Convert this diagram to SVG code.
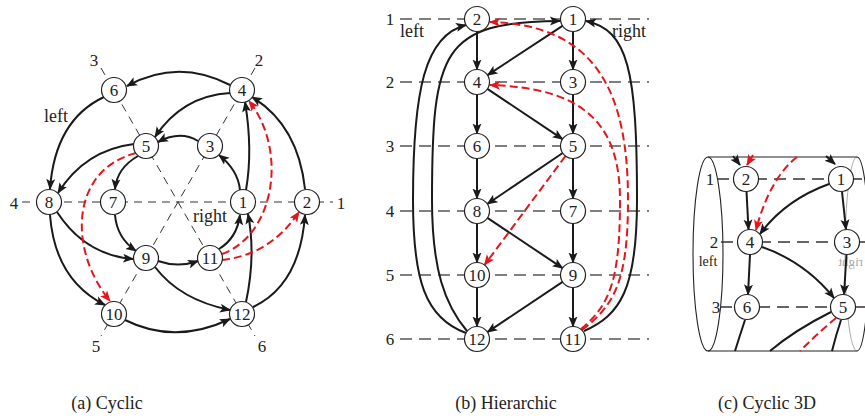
<svg xmlns="http://www.w3.org/2000/svg" width="865" height="419" viewBox="0 0 865 419">
<defs>
<marker id="ah" markerUnits="userSpaceOnUse" markerWidth="12" markerHeight="10" refX="10" refY="5" orient="auto" viewBox="0 0 12 10"><path d="M0,0.5 L11,5 L0,9.5 L2.5,5 z" fill="#1a1a1a"/></marker>
<marker id="ahr" markerUnits="userSpaceOnUse" markerWidth="12" markerHeight="10" refX="10" refY="5" orient="auto" viewBox="0 0 12 10"><path d="M0,0.5 L11,5 L0,9.5 L2.5,5 z" fill="#e3161d"/></marker>
</defs>
<style>
text{font-family:"Liberation Serif","DejaVu Serif",serif;fill:#222}
.nl{font-size:17px;text-anchor:middle}
.lab{font-size:17px;text-anchor:middle}
.cap{font-size:18px;text-anchor:middle}
.nd circle{fill:#fff;stroke:#222;stroke-width:1.2}
.e{fill:none;stroke:#1a1a1a;stroke-width:2;marker-end:url(#ah)}
.en{fill:none;stroke:#1a1a1a;stroke-width:2}
.r{fill:none;stroke:#e3161d;stroke-width:2;stroke-dasharray:8 4;marker-end:url(#ahr)}
.rn{fill:none;stroke:#e3161d;stroke-width:2;stroke-dasharray:8 4}
.ga{fill:none;stroke:#333;stroke-width:1;stroke-dasharray:8 6}
.gb{fill:none;stroke:#555;stroke-width:1.3;stroke-dasharray:12 7}
.cyl{fill:none;stroke:#222;stroke-width:1.1}
</style>

<!-- Panel (a) guides -->
<g id="a-guides">
<path class="ga" d="M22,202 H333"/>
<path class="ga" d="M255,68 L101,336"/>
<path class="ga" d="M101,68 L255,336"/>
<text class="lab" x="341" y="209">1</text>
<text class="lab" x="259" y="66">2</text>
<text class="lab" x="94" y="66">3</text>
<text class="lab" x="14" y="209">4</text>
<text class="lab" x="96" y="352">5</text>
<text class="lab" x="262" y="352">6</text>
<text x="44" y="122" style="font-size:18px">left</text>
<text x="193" y="222" style="font-size:18px">right</text>
</g>

<!-- Panel (b) guides -->
<g id="b-guides">
<path class="gb" d="M400,19 H649 M400,82 H649 M400,146 H649 M400,211 H649 M400,275 H649 M400,339 H649"/>
<text class="lab" x="390" y="25">1</text>
<text class="lab" x="390" y="88">2</text>
<text class="lab" x="390" y="152">3</text>
<text class="lab" x="390" y="217">4</text>
<text class="lab" x="390" y="281">5</text>
<text class="lab" x="390" y="345">6</text>
<text x="400" y="37" style="font-size:18px">left</text>
<text x="612" y="37" style="font-size:18px">right</text>
</g>

<!-- Panel (c) cylinder and guides -->
<g id="c-cylinder">
<path d="M857,157 A12,97 0 0 0 857,351" fill="none" stroke="#aaa" stroke-width="1"/>
<text transform="translate(1701,0) scale(-1,1)" x="838" y="266" style="font-size:13px;fill:#aaa">right</text>
<ellipse class="cyl" cx="708" cy="254" rx="15" ry="97"/>
<path class="cyl" d="M708,157 H857 A12,97 0 0 1 857,351 H708"/>
<path class="gb" d="M717,179 H865 M721,242 H865 M720,307 H865" style="stroke:#333"/>
<text class="lab" x="710" y="185">1</text>
<text class="lab" x="714" y="248">2</text>
<text class="lab" x="716" y="313">3</text>
<text x="708" y="266" style="font-size:14px;text-anchor:middle">left</text>
</g>

<g id="connectors">
<!-- (a) -->
<path class="e" d="M230,85 Q178,58 127,86"/>
<path class="e" d="M230,93 Q182,96 155,137"/>
<path class="e" d="M198,141 Q180,130 158,142"/>
<path class="e" d="M240,190 Q238,170 219,155"/>
<path class="e" d="M246,190 Q253,150 245,102"/>
<path class="e" d="M305,189 Q298,125 252,97"/>
<path class="e" d="M104,97 Q55,120 50,189"/>
<path class="e" d="M134,144 Q85,150 58,193"/>
<path class="e" d="M138,156 Q117,168 115,189"/>
<path class="e" d="M115,215 Q117,238 136,251"/>
<path class="e" d="M57,212 Q85,255 133,259"/>
<path class="e" d="M50,215 Q55,280 105,305"/>
<path class="e" d="M158,261 Q178,268 198,261"/>
<path class="e" d="M155,267 Q180,300 230,310"/>
<path class="e" d="M125,320 Q175,345 230,319"/>
<path class="e" d="M219,249 Q237,238 240,215"/>
<path class="e" d="M246,302 Q256,255 248,214"/>
<path class="e" d="M253,307 Q300,285 305,215"/>
<path class="r" d="M222,254 C275,235 288,150 249,101"/>
<path class="r" d="M222,260 Q270,255 299,212"/>
<path class="r" d="M136,153 C70,170 68,250 110,301"/>
<!-- (b) -->
<path class="e" d="M477,31.5 V69.5"/>
<path class="e" d="M477,94.5 V133.5"/>
<path class="e" d="M477,158.5 V198.5"/>
<path class="e" d="M477,223.5 V262.5"/>
<path class="e" d="M477,287.5 V326.5"/>
<path class="e" d="M573,31.5 V69.5"/>
<path class="e" d="M573,94.5 V133.5"/>
<path class="e" d="M573,158.5 V198.5"/>
<path class="e" d="M573,223.5 V262.5"/>
<path class="e" d="M573,287.5 V326.5"/>
<path class="e" d="M562.5,25.9 L487.5,75.1"/>
<path class="e" d="M487.4,88.9 L562.6,139.1"/>
<path class="e" d="M562.7,153 L487.3,204"/>
<path class="e" d="M487.4,217.9 L562.6,268.1"/>
<path class="e" d="M562.6,281.9 L487.4,332.1"/>
<path class="r" d="M565.5,156 L484.5,265"/>
<path class="e" d="M466,333 C425,318 413,280 413,200 C413,90 425,35 466,25"/>
<path class="e" d="M467,331 C445,305 432,270 432,200 C432,50 442,22 560,21"/>
<path class="e" d="M584,331 C620,315 637,290 637,200 C637,70 628,30 586,21"/>
<path class="r" d="M582,330 C615,305 628,280 628,200 C628,90 595,25 490,22"/>
<path class="r" d="M581,329 C610,305 620,280 620,200 C620,120 580,88 490,85"/>
<!-- (c) -->
<path class="e" d="M746.5,191.5 L748.5,229.5"/>
<path class="e" d="M750,254.5 L748,294.5"/>
<path class="e" d="M842,191.5 L846,229.5"/>
<path class="e" d="M846.5,254.5 L844,294.5"/>
<path class="e" d="M829,184 Q785,200 760,234"/>
<path class="e" d="M762,247 Q805,262 834,298"/>
<path class="r" d="M797,157 C780,170 765,195 756,230"/>
<path class="e" d="M733,156 L740,165"/>
<path class="r" d="M753,155 L747,165" style="stroke-dasharray:none"/>
<path class="e" d="M826,156 L835,164"/>
<path class="en" d="M745,320 Q740,335 735,351"/>
<path class="en" d="M831,312 Q795,330 770,351"/>
<path class="rn" d="M836,318 Q818,333 800,351"/>
<path class="en" d="M841,320 Q836,335 832,351"/>
</g>

<!-- (a) nodes -->
<g id="a-n1" class="nd"><circle cx="243" cy="202" r="12.5"/><text class="nl" x="243" y="208">1</text></g>
<g id="a-n2" class="nd"><circle cx="307" cy="202" r="12.5"/><text class="nl" x="307" y="208">2</text></g>
<g id="a-n3" class="nd"><circle cx="210" cy="146" r="12.5"/><text class="nl" x="210" y="152">3</text></g>
<g id="a-n4" class="nd"><circle cx="242" cy="90" r="12.5"/><text class="nl" x="242" y="96">4</text></g>
<g id="a-n5" class="nd"><circle cx="146" cy="146" r="12.5"/><text class="nl" x="146" y="152">5</text></g>
<g id="a-n6" class="nd"><circle cx="114" cy="90" r="12.5"/><text class="nl" x="114" y="96">6</text></g>
<g id="a-n7" class="nd"><circle cx="113" cy="202" r="12.5"/><text class="nl" x="113" y="208">7</text></g>
<g id="a-n8" class="nd"><circle cx="49" cy="202" r="12.5"/><text class="nl" x="49" y="208">8</text></g>
<g id="a-n9" class="nd"><circle cx="146" cy="258" r="12.5"/><text class="nl" x="146" y="264">9</text></g>
<g id="a-n10" class="nd"><circle cx="114" cy="314" r="12.5"/><text class="nl" x="114" y="320">10</text></g>
<g id="a-n11" class="nd"><circle cx="210" cy="258" r="12.5"/><text class="nl" x="210" y="264">11</text></g>
<g id="a-n12" class="nd"><circle cx="242" cy="314" r="12.5"/><text class="nl" x="242" y="320">12</text></g>

<!-- (b) nodes -->
<g id="b-n2" class="nd"><circle cx="477" cy="19" r="12.5"/><text class="nl" x="477" y="25">2</text></g>
<g id="b-n1" class="nd"><circle cx="573" cy="19" r="12.5"/><text class="nl" x="573" y="25">1</text></g>
<g id="b-n4" class="nd"><circle cx="477" cy="82" r="12.5"/><text class="nl" x="477" y="88">4</text></g>
<g id="b-n3" class="nd"><circle cx="573" cy="82" r="12.5"/><text class="nl" x="573" y="88">3</text></g>
<g id="b-n6" class="nd"><circle cx="477" cy="146" r="12.5"/><text class="nl" x="477" y="152">6</text></g>
<g id="b-n5" class="nd"><circle cx="573" cy="146" r="12.5"/><text class="nl" x="573" y="152">5</text></g>
<g id="b-n8" class="nd"><circle cx="477" cy="211" r="12.5"/><text class="nl" x="477" y="217">8</text></g>
<g id="b-n7" class="nd"><circle cx="573" cy="211" r="12.5"/><text class="nl" x="573" y="217">7</text></g>
<g id="b-n10" class="nd"><circle cx="477" cy="275" r="12.5"/><text class="nl" x="477" y="281">10</text></g>
<g id="b-n9" class="nd"><circle cx="573" cy="275" r="12.5"/><text class="nl" x="573" y="281">9</text></g>
<g id="b-n12" class="nd"><circle cx="477" cy="339" r="12.5"/><text class="nl" x="477" y="345">12</text></g>
<g id="b-n11" class="nd"><circle cx="573" cy="339" r="12.5"/><text class="nl" x="573" y="345">11</text></g>

<!-- (c) nodes -->
<g id="c-n2" class="nd"><circle cx="746" cy="179" r="12.5"/><text class="nl" x="746" y="185">2</text></g>
<g id="c-n1" class="nd"><circle cx="841" cy="179" r="12.5"/><text class="nl" x="841" y="185">1</text></g>
<g id="c-n4" class="nd"><circle cx="750" cy="242" r="12.5"/><text class="nl" x="750" y="248">4</text></g>
<g id="c-n3" class="nd"><circle cx="847" cy="242" r="12.5"/><text class="nl" x="847" y="248">3</text></g>
<g id="c-n6" class="nd"><circle cx="747" cy="307" r="12.5"/><text class="nl" x="747" y="313">6</text></g>
<g id="c-n5" class="nd"><circle cx="843" cy="307" r="12.5"/><text class="nl" x="843" y="313">5</text></g>

<g id="captions">
<text class="cap" x="107" y="409">(a) Cyclic</text>
<text class="cap" x="506" y="409">(b) Hierarchic</text>
<text class="cap" x="767" y="409">(c) Cyclic 3D</text>
</g>
</svg>
